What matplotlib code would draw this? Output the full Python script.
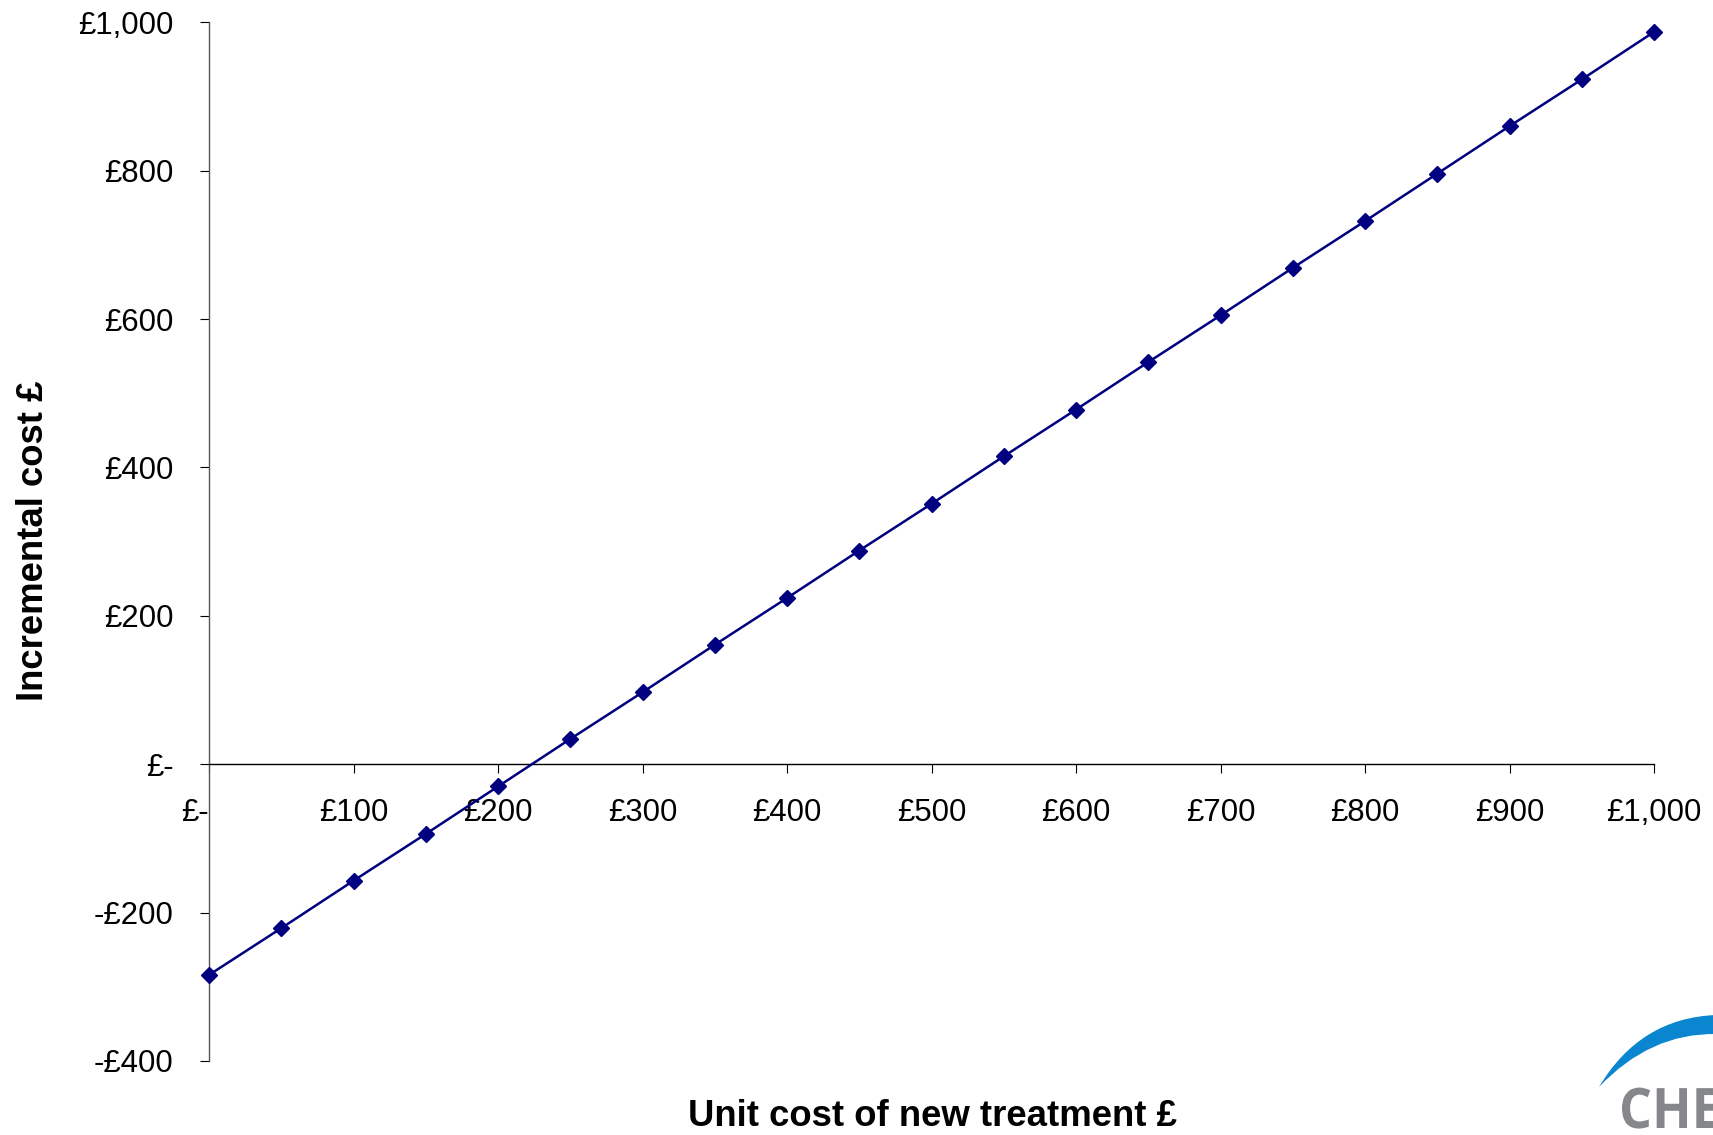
import matplotlib
matplotlib.use("Agg")
import matplotlib.pyplot as plt
from matplotlib.path import Path
from matplotlib.patches import PathPatch
from matplotlib.textpath import TextPath
from matplotlib.font_manager import FontProperties
from matplotlib.transforms import Affine2D, IdentityTransform

plt.rcParams['font.family'] = ['Liberation Sans', 'DejaVu Sans']

unit_cost = [0, 50, 100, 150, 200, 250, 300, 350, 400, 450, 500,
             550, 600, 650, 700, 750, 800, 850, 900, 950, 1000]
incremental_cost = [-284, -221, -157, -94, -30, 34, 97, 161, 224, 288, 351,
                    415, 478, 542, 605, 669, 732, 796, 860, 923, 987]

x_ticks = [0, 100, 200, 300, 400, 500, 600, 700, 800, 900, 1000]
x_labels = ["£-", "£100", "£200", "£300", "£400", "£500", "£600", "£700", "£800", "£900", "£1,000"]
y_ticks = [-400, -200, 0, 200, 400, 600, 800, 1000]
y_labels = ["-£400", "-£200", "£-", "£200", "£400", "£600", "£800", "£1,000"]

W, H = 1713, 1135
fig = plt.figure(figsize=(W / 100, H / 100), dpi=100)
ax = fig.add_axes([209 / W, 1 - 1061 / H, (1654 - 209) / W, (1061 - 22.3) / H])

ax.plot(unit_cost, incremental_cost, color='#000080', lw=1.8,
        marker='D', ms=8, mfc='#000080', mec='#000080', clip_on=False, zorder=3)

ax.set_xlim(0, 1000)
ax.set_ylim(-400, 1000)
ax.spines['top'].set_visible(False)
ax.spines['right'].set_visible(False)
ax.spines['bottom'].set_position(('data', 0))
ax.spines['left'].set_color('#555555')
ax.spines['bottom'].set_color('#000000')
ax.spines['left'].set_linewidth(1.0)
ax.spines['bottom'].set_linewidth(1.0)

ax.set_xticks(x_ticks)
ax.set_xticklabels(x_labels)
ax.set_yticks(y_ticks)
ax.set_yticklabels(y_labels)
ax.tick_params(axis='x', direction='out', length=6.5, width=0.8, pad=18, labelsize=22.5, colors='#000000')
ax.tick_params(axis='y', direction='out', length=6.5, width=0.8, pad=19, labelsize=22.5, colors='#000000')
ax.xaxis.get_majorticklabels()[0].set_horizontalalignment('right')

fig.text(932 / W, 1 - 1126 / H, "Unit cost of new treatment £", ha='center', va='baseline',
         fontsize=26.3, fontweight='bold')
fig.text(34 / W, 1 - 541 / H, "Incremental cost £", ha='center', va='center',
         rotation=90, fontsize=26.3, fontweight='bold')

# Logo (partially cut off at right edge)
def fp(x, y):
    return (x / W, 1 - y / H)

verts = [fp(1599, 1087), fp(1640, 1018), fp(1716, 1015),
         fp(1716, 1034),
         fp(1650, 1033), fp(1599, 1087),
         fp(1599, 1087)]
codes = [Path.MOVETO, Path.CURVE3, Path.CURVE3, Path.LINETO,
         Path.CURVE3, Path.CURVE3, Path.CLOSEPOLY]
arc = PathPatch(Path(verts, codes), facecolor='#0a85d0', edgecolor='none',
                transform=fig.transFigure)
fig.patches.append(arc)

logo_font = FontProperties(family=['Open Sans', 'DejaVu Sans'], weight='bold')
tp_ch = TextPath((0, 0), "CH", size=57, prop=logo_font)
ext = tp_ch.get_extents()
sx = 65.0 / ext.width
sy = 41.0 / ext.height
tp = TextPath((0, 0), "CHE", size=57, prop=logo_font)
tr = Affine2D().translate(-ext.x0, 0).scale(sx, sy).translate(1622, H - 1128)
logo_path = tr.transform_path(tp)
logo = PathPatch(logo_path, facecolor='#86878a', edgecolor='none',
                 transform=IdentityTransform())
fig.patches.append(logo)

fig.savefig("out.png", dpi=100)
